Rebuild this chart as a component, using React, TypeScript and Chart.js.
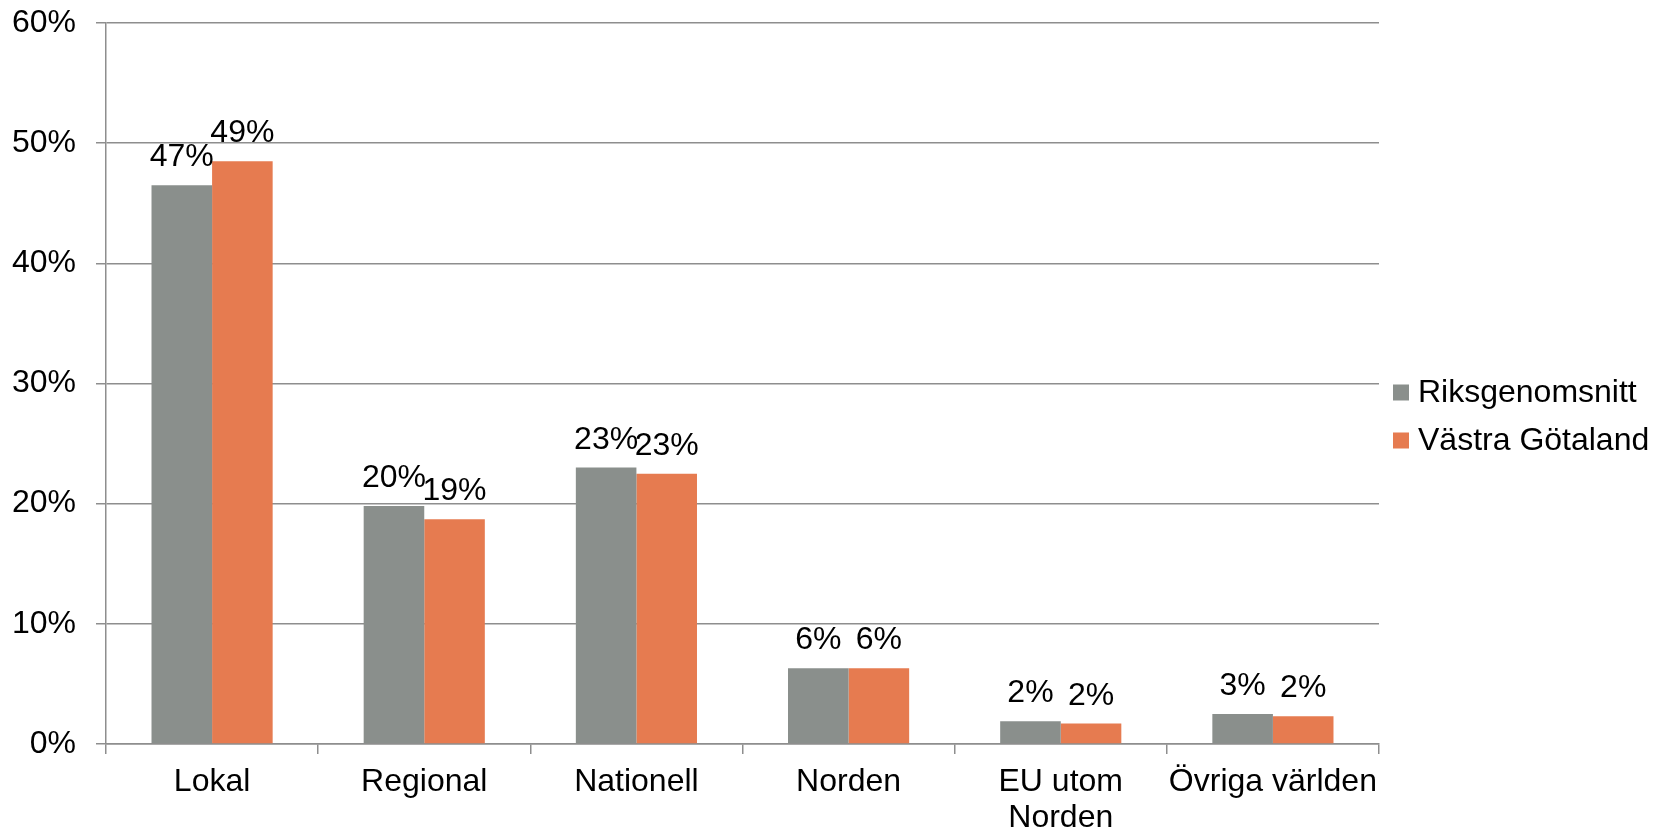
import React, { useEffect, useRef } from 'react';
import { Chart, registerables } from 'chart.js';

Chart.register(...registerables);

const categories: (string | string[])[] = ['Lokal', 'Regional', 'Nationell', 'Norden', ['EU utom', 'Norden'], 'Övriga världen'];
const seriesNames = ['Riksgenomsnitt', 'Västra Götaland'];
const riksValues = [46.5, 19.8, 23.0, 6.3, 1.9, 2.5];
const vgValues = [48.5, 18.7, 22.5, 6.3, 1.7, 2.3];
const yMin = 0;
const yMax = 60;
const yStep = 10;

const FONT = '"Liberation Sans", Arial, sans-serif';
const FONT_SIZE = 32;
const GRAY = '#8A8F8C';
const ORANGE = '#E67B50';
const GRID = '#8e8e8e';

const barLabelPlugin = {
  id: 'barLabels',
  afterDatasetsDraw(chart: any) {
    const ctx = chart.ctx;
    ctx.save();
    ctx.font = `${FONT_SIZE}px ${FONT}`;
    ctx.fillStyle = '#000';
    ctx.textAlign = 'center';
    ctx.textBaseline = 'alphabetic';
    chart.data.datasets.forEach((ds: any, di: number) => {
      const meta = chart.getDatasetMeta(di);
      meta.data.forEach((el: any, i: number) => {
        const v = ds.data[i];
        ctx.fillText(Math.round(v) + '%', el.x, el.y - 19);
      });
    });
    ctx.restore();
  },
};

const sideLegendPlugin = {
  id: 'sideLegend',
  afterDraw(chart: any) {
    const ctx = chart.ctx;
    const datasets = chart.data.datasets;
    const rowGap = 48;
    const box = 16;
    const x0 = chart.chartArea.right + 14;
    const yCenter = chart.height / 2;
    ctx.save();
    ctx.font = `${FONT_SIZE}px ${FONT}`;
    ctx.textAlign = 'left';
    ctx.textBaseline = 'middle';
    datasets.forEach((ds: any, i: number) => {
      const y = yCenter + (i - (datasets.length - 1) / 2) * rowGap;
      ctx.fillStyle = ds.backgroundColor;
      ctx.fillRect(x0, y - box / 2, box, box);
      ctx.fillStyle = '#000';
      ctx.fillText(ds.label, x0 + box + 9, y + 1);
    });
    ctx.restore();
  },
};

export default function App() {
  const ref = useRef<HTMLCanvasElement | null>(null);
  useEffect(() => {
    if (!ref.current) return;
    const chart = new Chart(ref.current, {
      type: 'bar',
      data: {
        labels: categories as any,
        datasets: [
          { label: seriesNames[0], data: riksValues, backgroundColor: GRAY, categoryPercentage: 0.571, barPercentage: 1 },
          { label: seriesNames[1], data: vgValues, backgroundColor: ORANGE, categoryPercentage: 0.571, barPercentage: 1 },
        ],
      },
      options: {
        animation: false,
        responsive: true,
        maintainAspectRatio: false,
        layout: { padding: { top: 0, left: 0, right: 285, bottom: 0 } },
        plugins: {
          tooltip: { enabled: false },
          legend: { display: false },
        },
        scales: {
          x: {
            afterFit: (scale: any) => { scale.height = 89; },
            grid: { display: true, drawOnChartArea: false, drawTicks: true, tickLength: 10, offset: true, color: GRID, lineWidth: 1.5 },
            border: { display: true, color: GRID, width: 1.5 },
            ticks: { color: '#000', font: { size: FONT_SIZE, family: FONT, lineHeight: 1.12 }, padding: 10, maxRotation: 0, autoSkip: false },
          },
          y: {
            min: yMin,
            max: yMax,
            afterFit: (scale: any) => { scale.width = 106; scale.paddingTop = 23; scale.paddingBottom = 0; },
            ticks: { stepSize: yStep, color: '#000', font: { size: FONT_SIZE, family: FONT }, padding: 20, callback: (v: any) => v + '%' },
            grid: { color: GRID, lineWidth: 1.5, tickLength: 10, drawTicks: true },
            border: { display: true, color: GRID, width: 1.5 },
          },
        },
      },
      plugins: [barLabelPlugin, sideLegendPlugin],
    });
    return () => chart.destroy();
  }, []);
  return (
    <div style={{ position: 'absolute', left: 0, top: 0, width: 1664, height: 833, background: '#fff' }}>
      <canvas ref={ref} />
    </div>
  );
}
